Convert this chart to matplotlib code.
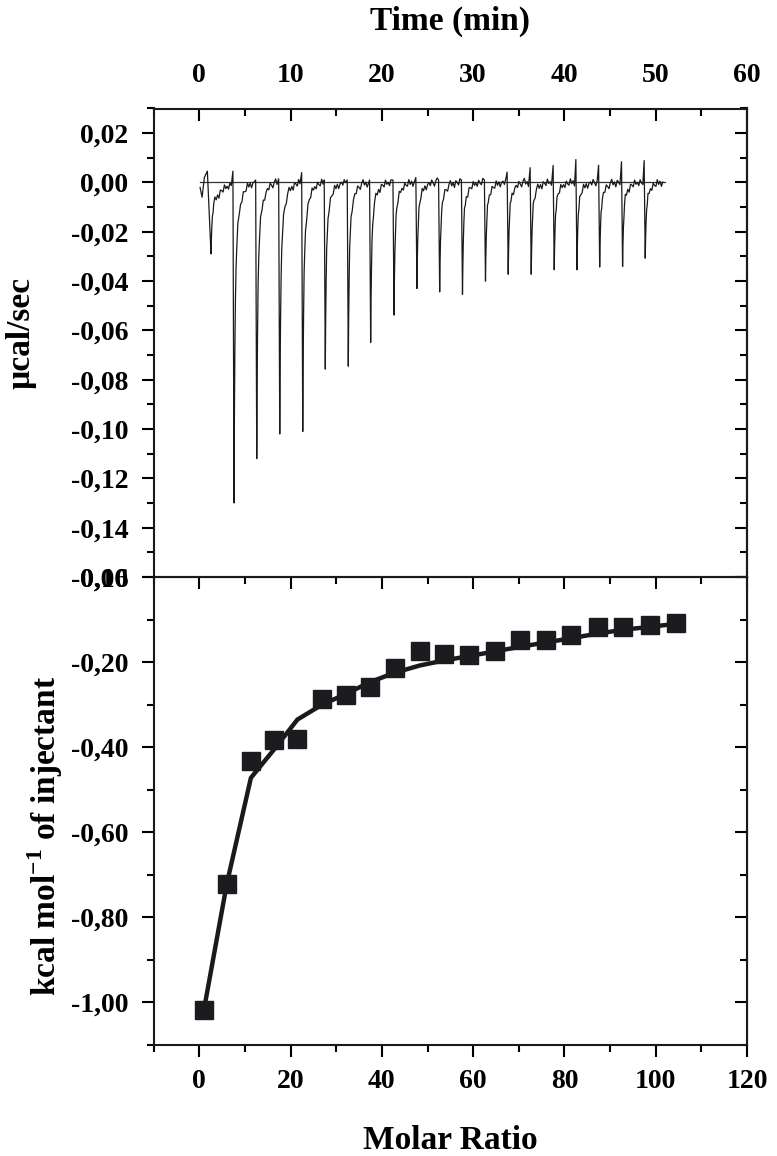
import numpy as np
import matplotlib
matplotlib.use("Agg")
import matplotlib.pyplot as plt
from matplotlib.ticker import MultipleLocator, FuncFormatter

plt.rcParams["font.family"] = "Liberation Serif"
plt.rcParams["font.weight"] = "bold"
plt.rcParams["mathtext.fontset"] = "custom"
plt.rcParams["mathtext.rm"] = "Liberation Serif:bold"
plt.rcParams["mathtext.bf"] = "Liberation Serif:bold"

# --- raw thermogram ---
# start of the trace before the first injection
start_t = [0.08, 0.30, 0.55, 0.88]
start_v = [-0.002, -0.006, 0.002, 0.0046]
# injection peaks: time of the minimum (min) and its depth (µcal/s)
inj_time = [1.28, 3.80, 6.29, 8.81, 11.33, 13.80, 16.32, 18.77, 21.33, 23.84,
            26.33, 28.83, 31.35, 33.84, 36.36, 38.88, 41.37, 43.86, 46.37, 48.85]
inj_depth = [-0.029, -0.130, -0.112, -0.102, -0.101, -0.0757, -0.0745, -0.0649, -0.0538, -0.0430,
             -0.0444, -0.0454, -0.0400, -0.0372, -0.0372, -0.0354, -0.0354, -0.0343, -0.0341, -0.0307]
# small upward spike just before injections 2..20
pre_spike = [0.0046, 0.0010, 0.0015, 0.0040, 0.0010, 0.0010, 0.0010, 0.0010, 0.0020,
             0.0010, 0.0010, 0.0010, 0.0042, 0.0060, 0.0069, 0.0093, 0.0070, 0.0084, 0.0089]
# baseline wiggle (x 1e-3 µcal/s)
wiggle = [0.8, -0.6, 1.5, 0.2, -1.2, 0.9, 2.0, -0.4, 0.6, -1.5, 1.1, 0.3, -0.8,
          1.7, -0.2, 0.5, -1.0, 1.3, 0.0, -0.7, 1.8, -0.3, 0.9, -1.3, 0.4]
trace_end = 51.0

# --- integrated heats (lower panel) ---
molar_ratio = [0.96, 6.04, 11.3, 16.4, 21.5, 26.9, 32.1, 37.4, 42.8, 48.3,
               53.7, 59.1, 64.7, 70.3, 75.9, 81.4, 87.3, 92.9, 98.8, 104.5]
heat = [-1.018, -0.721, -0.432, -0.384, -0.380, -0.287, -0.278, -0.259, -0.214, -0.173,
        -0.180, -0.183, -0.173, -0.149, -0.147, -0.137, -0.118, -0.117, -0.113, -0.109]
fit = [-1.02, -0.72, -0.472, -0.405, -0.335, -0.300, -0.275, -0.247, -0.225, -0.208,
       -0.196, -0.186, -0.175, -0.164, -0.154, -0.144, -0.133, -0.124, -0.117, -0.110]


def build_trace():
    noise = np.array(wiggle) * 1e-3
    t_pts, v_pts = list(start_t), list(start_v)
    n = len(inj_time)
    for k in range(n):
        t0, d = inj_time[k], inj_depth[k]
        t_next = inj_time[k + 1] - 0.15 if k + 1 < n else trace_end
        if k > 0:
            t_pts.append(t0 - 0.12)
            v_pts.append(pre_spike[k - 1])
        dts = np.concatenate([[0, 0.04, 0.09, 0.15, 0.22, 0.30],
                              np.arange(0.42, t_next - t0 - 0.1, 0.15)])
        if k == 0:
            frac, tau_s = 0.4, 1.0
        else:
            frac, tau_s = 0.3, 0.5
        shape = d * ((1 - frac) * np.exp(-dts / 0.1) + frac * np.exp(-dts / tau_s))
        wig = noise[(np.arange(len(dts)) + 7 * k) % len(noise)]
        wig[:3] = 0
        t_pts.extend(t0 + dts)
        v_pts.extend(shape + wig)
    return np.array(t_pts), np.array(v_pts)


def comma_fmt(v, pos):
    s = f"{v:.2f}".replace(".", ",")
    return "0,00" if s == "-0,00" else s


W, H = 777, 1156
fig = plt.figure(figsize=(W / 100, H / 100), dpi=100, facecolor="white")
left, right = 153.7 / W, 747 / W
y_top, y_mid, y_bot = 1 - 108.5 / H, 1 - 577 / H, 1 - 1045 / H
ax1 = fig.add_axes([left, y_mid, right - left, y_top - y_mid])
ax2 = fig.add_axes([left, y_bot, right - left, y_mid - y_bot])

ink = "#1a1a1a"
MAJ, MIN, TW = 8.6, 5.0, 1.5

for ax in (ax1, ax2):
    for sp in ax.spines.values():
        sp.set_linewidth(1.5)
        sp.set_color(ink)

# upper panel
t, v = build_trace()
ax1.plot([start_t[0], trace_end], [0, 0], color="#333333", lw=0.9)
ax1.plot(t, v, color=ink, lw=0.9)
ax1.set_xlim(-5, 60)
ax1.set_ylim(-0.16, 0.03)
ax1.xaxis.tick_top()
ax1.xaxis.set_label_position("top")
ax1.xaxis.set_major_locator(MultipleLocator(10))
ax1.xaxis.set_minor_locator(MultipleLocator(5))
ax1.yaxis.set_major_locator(MultipleLocator(0.02))
ax1.yaxis.set_minor_locator(MultipleLocator(0.01))
ax1.yaxis.set_major_formatter(FuncFormatter(comma_fmt))
ax1.tick_params(axis="x", which="both", direction="in", top=True, bottom=False,
                labeltop=True, labelbottom=False, pad=14.4, width=TW, labelsize=20)
ax1.tick_params(axis="x", which="major", length=MAJ)
ax1.tick_params(axis="x", which="minor", length=MIN)
ax1.tick_params(axis="y", which="both", direction="out", left=True, right=False,
                pad=9.6, width=TW, labelsize=20)
ax1.tick_params(axis="y", which="major", length=MAJ)
ax1.tick_params(axis="y", which="minor", length=MIN)
r1 = ax1.secondary_yaxis("right")
r1.yaxis.set_major_locator(MultipleLocator(0.02))
r1.yaxis.set_minor_locator(MultipleLocator(0.01))
r1.tick_params(which="both", direction="in", labelright=False, width=TW)
r1.tick_params(which="major", length=MAJ)
r1.tick_params(which="minor", length=MIN)
r1.spines["right"].set_linewidth(1.5)
ax1.set_xlabel("Time (min)", fontsize=24, fontweight="bold")
ax1.xaxis.set_label_coords(0.5, 1.168)
ax1.set_ylabel("µcal/sec", fontsize=24, fontweight="bold")
ax1.yaxis.set_label_coords(-0.197, 0.521)

# lower panel
ax2.plot(molar_ratio, fit, color=ink, lw=3.2, zorder=2)
ax2.plot(molar_ratio, heat, ls="none", marker="s", ms=13, color="#1c1c20", zorder=3)
ax2.set_xlim(-10, 120)
ax2.set_ylim(-1.1, 0)
ax2.xaxis.set_major_locator(MultipleLocator(20))
ax2.xaxis.set_minor_locator(MultipleLocator(10))
ax2.yaxis.set_major_locator(MultipleLocator(0.2))
ax2.yaxis.set_minor_locator(MultipleLocator(0.1))
ax2.yaxis.set_major_formatter(FuncFormatter(comma_fmt))
ax2.tick_params(axis="x", which="both", direction="out", top=False, bottom=True,
                pad=8.6, width=TW, labelsize=20)
ax2.tick_params(axis="x", which="major", length=MAJ)
ax2.tick_params(axis="x", which="minor", length=MIN)
ax2.tick_params(axis="y", which="both", direction="out", left=True, right=False,
                pad=9.6, width=TW, labelsize=20)
ax2.tick_params(axis="y", which="major", length=MAJ)
ax2.tick_params(axis="y", which="minor", length=MIN)
t2 = ax2.secondary_xaxis("top")
t2.xaxis.set_major_locator(MultipleLocator(20))
t2.xaxis.set_minor_locator(MultipleLocator(10))
t2.tick_params(which="both", direction="in", labeltop=False, width=TW)
t2.tick_params(which="major", length=MAJ)
t2.tick_params(which="minor", length=MIN)
r2 = ax2.secondary_yaxis("right")
r2.yaxis.set_major_locator(MultipleLocator(0.2))
r2.yaxis.set_minor_locator(MultipleLocator(0.1))
r2.tick_params(which="both", direction="in", labelright=False, width=TW)
r2.tick_params(which="major", length=MAJ)
r2.tick_params(which="minor", length=MIN)
ax2.set_xlabel("Molar Ratio", fontsize=24, fontweight="bold")
ax2.xaxis.set_label_coords(0.5, -0.171)
ax2.set_ylabel(r"kcal mol$^{\mathbf{-1}}$ of injectant", fontsize=24, fontweight="bold")
ax2.yaxis.set_label_coords(-0.15, 0.447)

fig.savefig("out.png", dpi=100, facecolor="white")
